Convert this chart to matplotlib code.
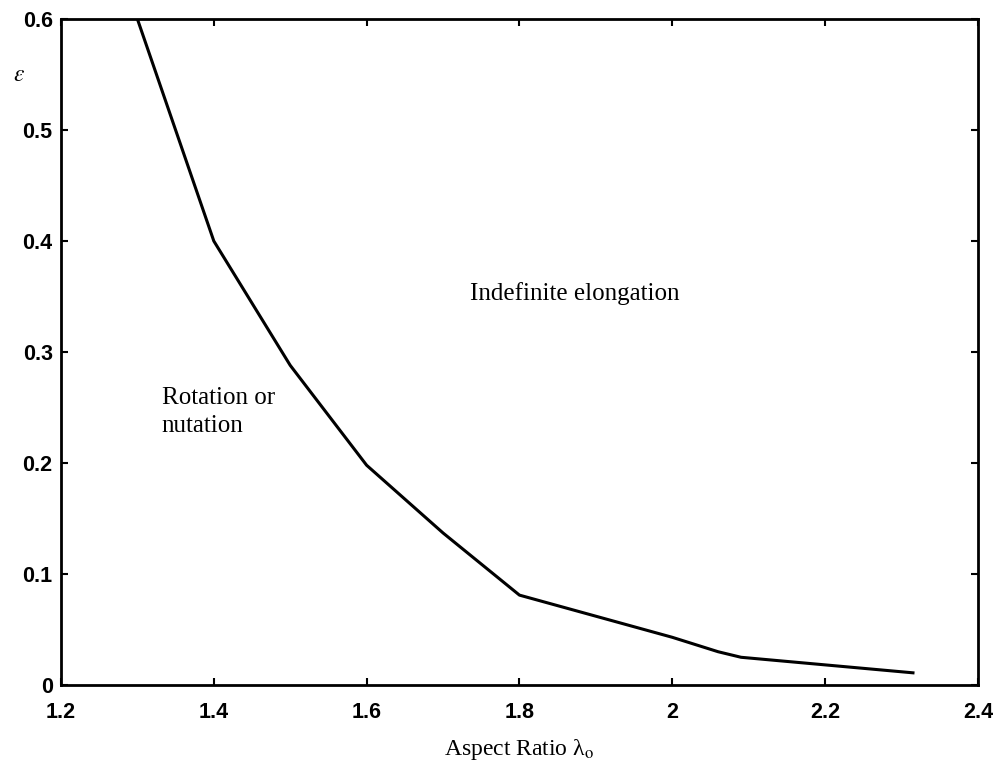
import matplotlib.pyplot as plt
import numpy as np

plt.rcParams['mathtext.fontset'] = 'stix'

# boundary curve between the two regimes
aspect = [1.3, 1.4, 1.5, 1.6, 1.7, 1.8, 1.9, 2.0, 2.06, 2.09, 2.315]
eps = [0.6, 0.4, 0.288, 0.198, 0.137, 0.081, 0.062, 0.043, 0.03, 0.025, 0.011]

xticks = [1.2, 1.4, 1.6, 1.8, 2.0, 2.2, 2.4]
xticklabels = ['1.2', '1.4', '1.6', '1.8', '2', '2.2', '2.4']
yticks = [0, 0.1, 0.2, 0.3, 0.4, 0.5, 0.6]
yticklabels = ['0', '0.1', '0.2', '0.3', '0.4', '0.5', '0.6']

fig = plt.figure(figsize=(10.03, 7.73), dpi=100)
ax = fig.add_axes([0.0608, 0.1138, 0.9142, 0.8616])

ax.plot(aspect, eps, color='black', linewidth=2.2, solid_joinstyle='round')

ax.set_xlim(1.2, 2.4)
ax.set_ylim(0, 0.6)
ax.set_xticks(xticks)
ax.set_xticklabels(xticklabels)
ax.set_yticks(yticks)
ax.set_yticklabels(yticklabels)
ax.tick_params(direction='in', top=True, right=True, length=5, width=1.5)
ax.tick_params(axis='x', pad=12)
ax.tick_params(axis='y', pad=6)
for lab in ax.get_xticklabels() + ax.get_yticklabels():
    lab.set_fontfamily('Liberation Sans')
    lab.set_fontweight('bold')
    lab.set_fontsize(15.5)
for sp in ax.spines.values():
    sp.set_linewidth(2)

ax.set_xlabel('Aspect Ratio λ$_\\mathrm{o}$', family='Liberation Serif',
              fontsize=17, labelpad=10)
fig.text(0.013, 0.895, r'$\varepsilon$', fontsize=17)

ax.text(1.735, 0.353, 'Indefinite elongation', family='Liberation Serif',
        fontsize=18, va='center', ha='left')
ax.text(1.332, 0.246, 'Rotation or\nnutation', family='Liberation Serif',
        fontsize=18, va='center', ha='left', linespacing=1.3)

fig.savefig('out.png', dpi=100)
